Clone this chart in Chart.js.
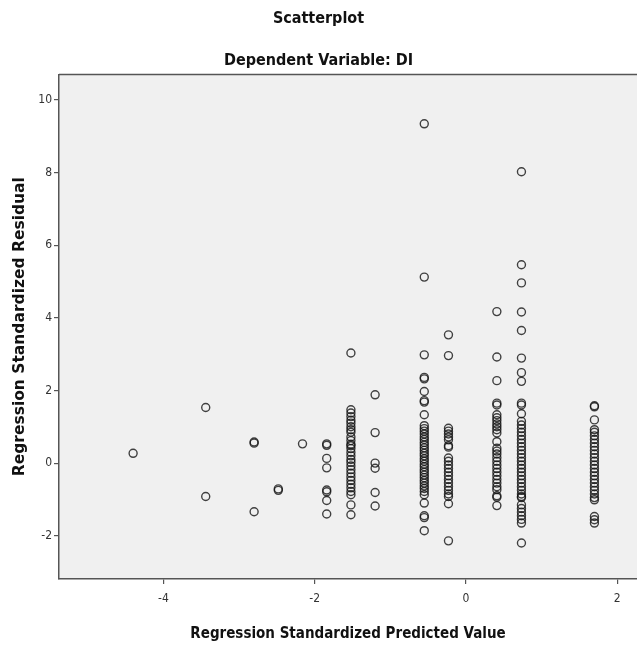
<!DOCTYPE html>
<html>
<head>
<meta charset="utf-8">
<script src="https://cdn.jsdelivr.net/npm/chart.js@4"></script>
<style>
  html, body { margin: 0; padding: 0; background: #fff; }
  #wrap { width: 637px; height: 646px; }
</style>
</head>
<body>
<div id="wrap"><canvas id="scatterChart"></canvas></div>
<script>
// Predicted value levels (x) and the residuals observed at each level (y)
const predictedLevels = [-4.40, -3.44, -2.80, -2.48, -2.16, -1.84, -1.52, -1.20, -0.55, -0.23, 0.41, 0.735, 1.70];

const residualsByLevel = [
  [0.27],
  [1.53, -0.92],
  [0.58, 0.55, -1.34],
  [-0.71, -0.75],
  [0.53],
  [0.53, 0.49, 0.13, -0.13, -0.74, -0.79, -1.03, -1.40],
  [3.03, 1.47, 1.38, 1.28, 1.18, 1.10, 1.00, 0.92, 0.85, 0.72, 0.62, 0.52, 0.48, 0.40, 0.30, 0.20, 0.10,
   0.02, -0.08, -0.18, -0.28, -0.38, -0.48, -0.58, -0.68, -0.78, -0.87, -1.15, -1.42],
  [1.88, 0.84, 0.00, -0.14, -0.81, -1.18],
  [9.34, 5.12, 2.98, 2.36, 2.32, 1.97, 1.72, 1.68, 1.33, 1.03, 0.95, 0.88, 0.80, 0.72, 0.65, 0.57, 0.50,
   0.42, 0.35, 0.27, 0.20, 0.12, 0.05, -0.03, -0.10, -0.18, -0.25, -0.33, -0.40, -0.48, -0.55, -0.63,
   -0.70, -0.78, -0.87, -1.10, -1.45, -1.50, -1.86],
  [3.53, 2.96, 0.96, 0.88, 0.80, 0.72, 0.64, 0.48, 0.44, 0.14, 0.05, -0.05, -0.15, -0.25, -0.35, -0.45,
   -0.55, -0.65, -0.75, -0.85, -0.92, -1.12, -2.14],
  [4.17, 2.92, 2.27, 1.65, 1.60, 1.33, 1.25, 1.17, 1.08, 1.00, 0.92, 0.83, 0.59, 0.41, 0.33, 0.25, 0.15,
   0.05, -0.05, -0.15, -0.25, -0.35, -0.45, -0.55, -0.65, -0.73, -0.90, -0.94, -1.17],
  [8.02, 5.46, 4.96, 4.16, 3.65, 2.89, 2.49, 2.25, 1.65, 1.60, 1.36, 1.15, 1.05, 0.95, 0.85, 0.75, 0.65,
   0.55, 0.45, 0.35, 0.25, 0.15, 0.05, -0.05, -0.15, -0.25, -0.35, -0.45, -0.55, -0.65, -0.75, -0.85,
   -0.92, -0.95, -1.15, -1.25, -1.35, -1.45, -1.55, -1.65, -2.20],
  [1.58, 1.55, 1.19, 0.92, 0.85, 0.75, 0.65, 0.55, 0.45, 0.35, 0.25, 0.15, 0.05, -0.05, -0.15, -0.25,
   -0.35, -0.45, -0.55, -0.65, -0.75, -0.85, -0.95, -1.01, -1.47, -1.56, -1.65],
];

const xRange = [-5.38, 2.263];
const yRange = [-3.19, 10.70];

const narrowFont = "'Liberation Sans Narrow', 'DejaVu Sans Condensed', Arial, sans-serif";

// build the point list from the arrays above
const points = [];
predictedLevels.forEach((x, i) => {
  residualsByLevel[i].forEach((y) => points.push({ x: x, y: y }));
});

// grey plot background + top frame line
const plotBackground = {
  id: "plotBackground",
  beforeDraw(chart) {
    const { ctx, chartArea: a } = chart;
    ctx.save();
    ctx.fillStyle = "#f0f0f0";
    ctx.fillRect(a.left, a.top, a.right - a.left, a.bottom - a.top);
    ctx.strokeStyle = "#555";
    ctx.lineWidth = 1.5;
    ctx.beginPath();
    ctx.moveTo(a.left, a.top);
    ctx.lineTo(a.right, a.top);
    ctx.stroke();
    ctx.restore();
  },
};

const ctx = document.getElementById("scatterChart").getContext("2d");
new Chart(ctx, {
  type: "scatter",
  data: {
    datasets: [
      {
        label: "Residuals",
        data: points,
        pointRadius: 4,
        pointBorderWidth: 1.4,
        pointBorderColor: "rgba(20, 20, 20, 0.8)",
        pointBackgroundColor: "rgba(0, 0, 0, 0)",
      },
    ],
  },
  options: {
    responsive: true,
    maintainAspectRatio: false,
    animation: false,
    layout: { padding: 0, autoPadding: false },
    plugins: {
      legend: { display: false },
      tooltip: { enabled: false },
      title: {
        display: true,
        text: "Scatterplot",
        color: "#111",
        font: { family: narrowFont, size: 16, weight: "bold" },
        padding: { top: 9, bottom: 23 },
      },
      subtitle: {
        display: true,
        text: "Dependent Variable: DI",
        color: "#111",
        font: { family: narrowFont, size: 16, weight: "bold" },
        padding: { top: 0, bottom: 4 },
      },
    },
    scales: {
      x: {
        type: "linear",
        min: xRange[0],
        max: xRange[1],
        afterFit: (scale) => {
          scale.height = 67;
          scale.paddingLeft = 0;
          scale.paddingRight = 0;
        },
        grid: { drawOnChartArea: false, drawTicks: true, tickLength: 5, color: "#555", lineWidth: 1.2 },
        border: { display: true, color: "#555", width: 1.5 },
        ticks: {
          stepSize: 2,
          includeBounds: false,
          padding: 8,
          color: "#333",
          font: { family: narrowFont, size: 12 },
        },
        title: {
          display: true,
          text: "Regression Standardized Predicted Value",
          color: "#111",
          font: { family: narrowFont, size: 15, weight: "bold" },
          padding: { top: 0, bottom: 3 },
        },
      },
      y: {
        type: "linear",
        min: yRange[0],
        max: yRange[1],
        afterFit: (scale) => {
          scale.width = 59;
          scale.paddingTop = 0;
          scale.paddingBottom = 0;
        },
        grid: { drawOnChartArea: false, drawTicks: true, tickLength: 5, color: "#555", lineWidth: 1.2 },
        border: { display: true, color: "#555", width: 1.5 },
        ticks: {
          stepSize: 2,
          includeBounds: false,
          padding: 2,
          color: "#333",
          font: { family: narrowFont, size: 12 },
        },
        title: {
          display: true,
          text: "Regression Standardized Residual",
          color: "#111",
          font: { family: "'DejaVu Sans', sans-serif", size: 15.5, weight: "bold" },
          padding: { top: 11, bottom: 0 },
        },
      },
    },
  },
  plugins: [plotBackground],
});
</script>
</body>
</html>
